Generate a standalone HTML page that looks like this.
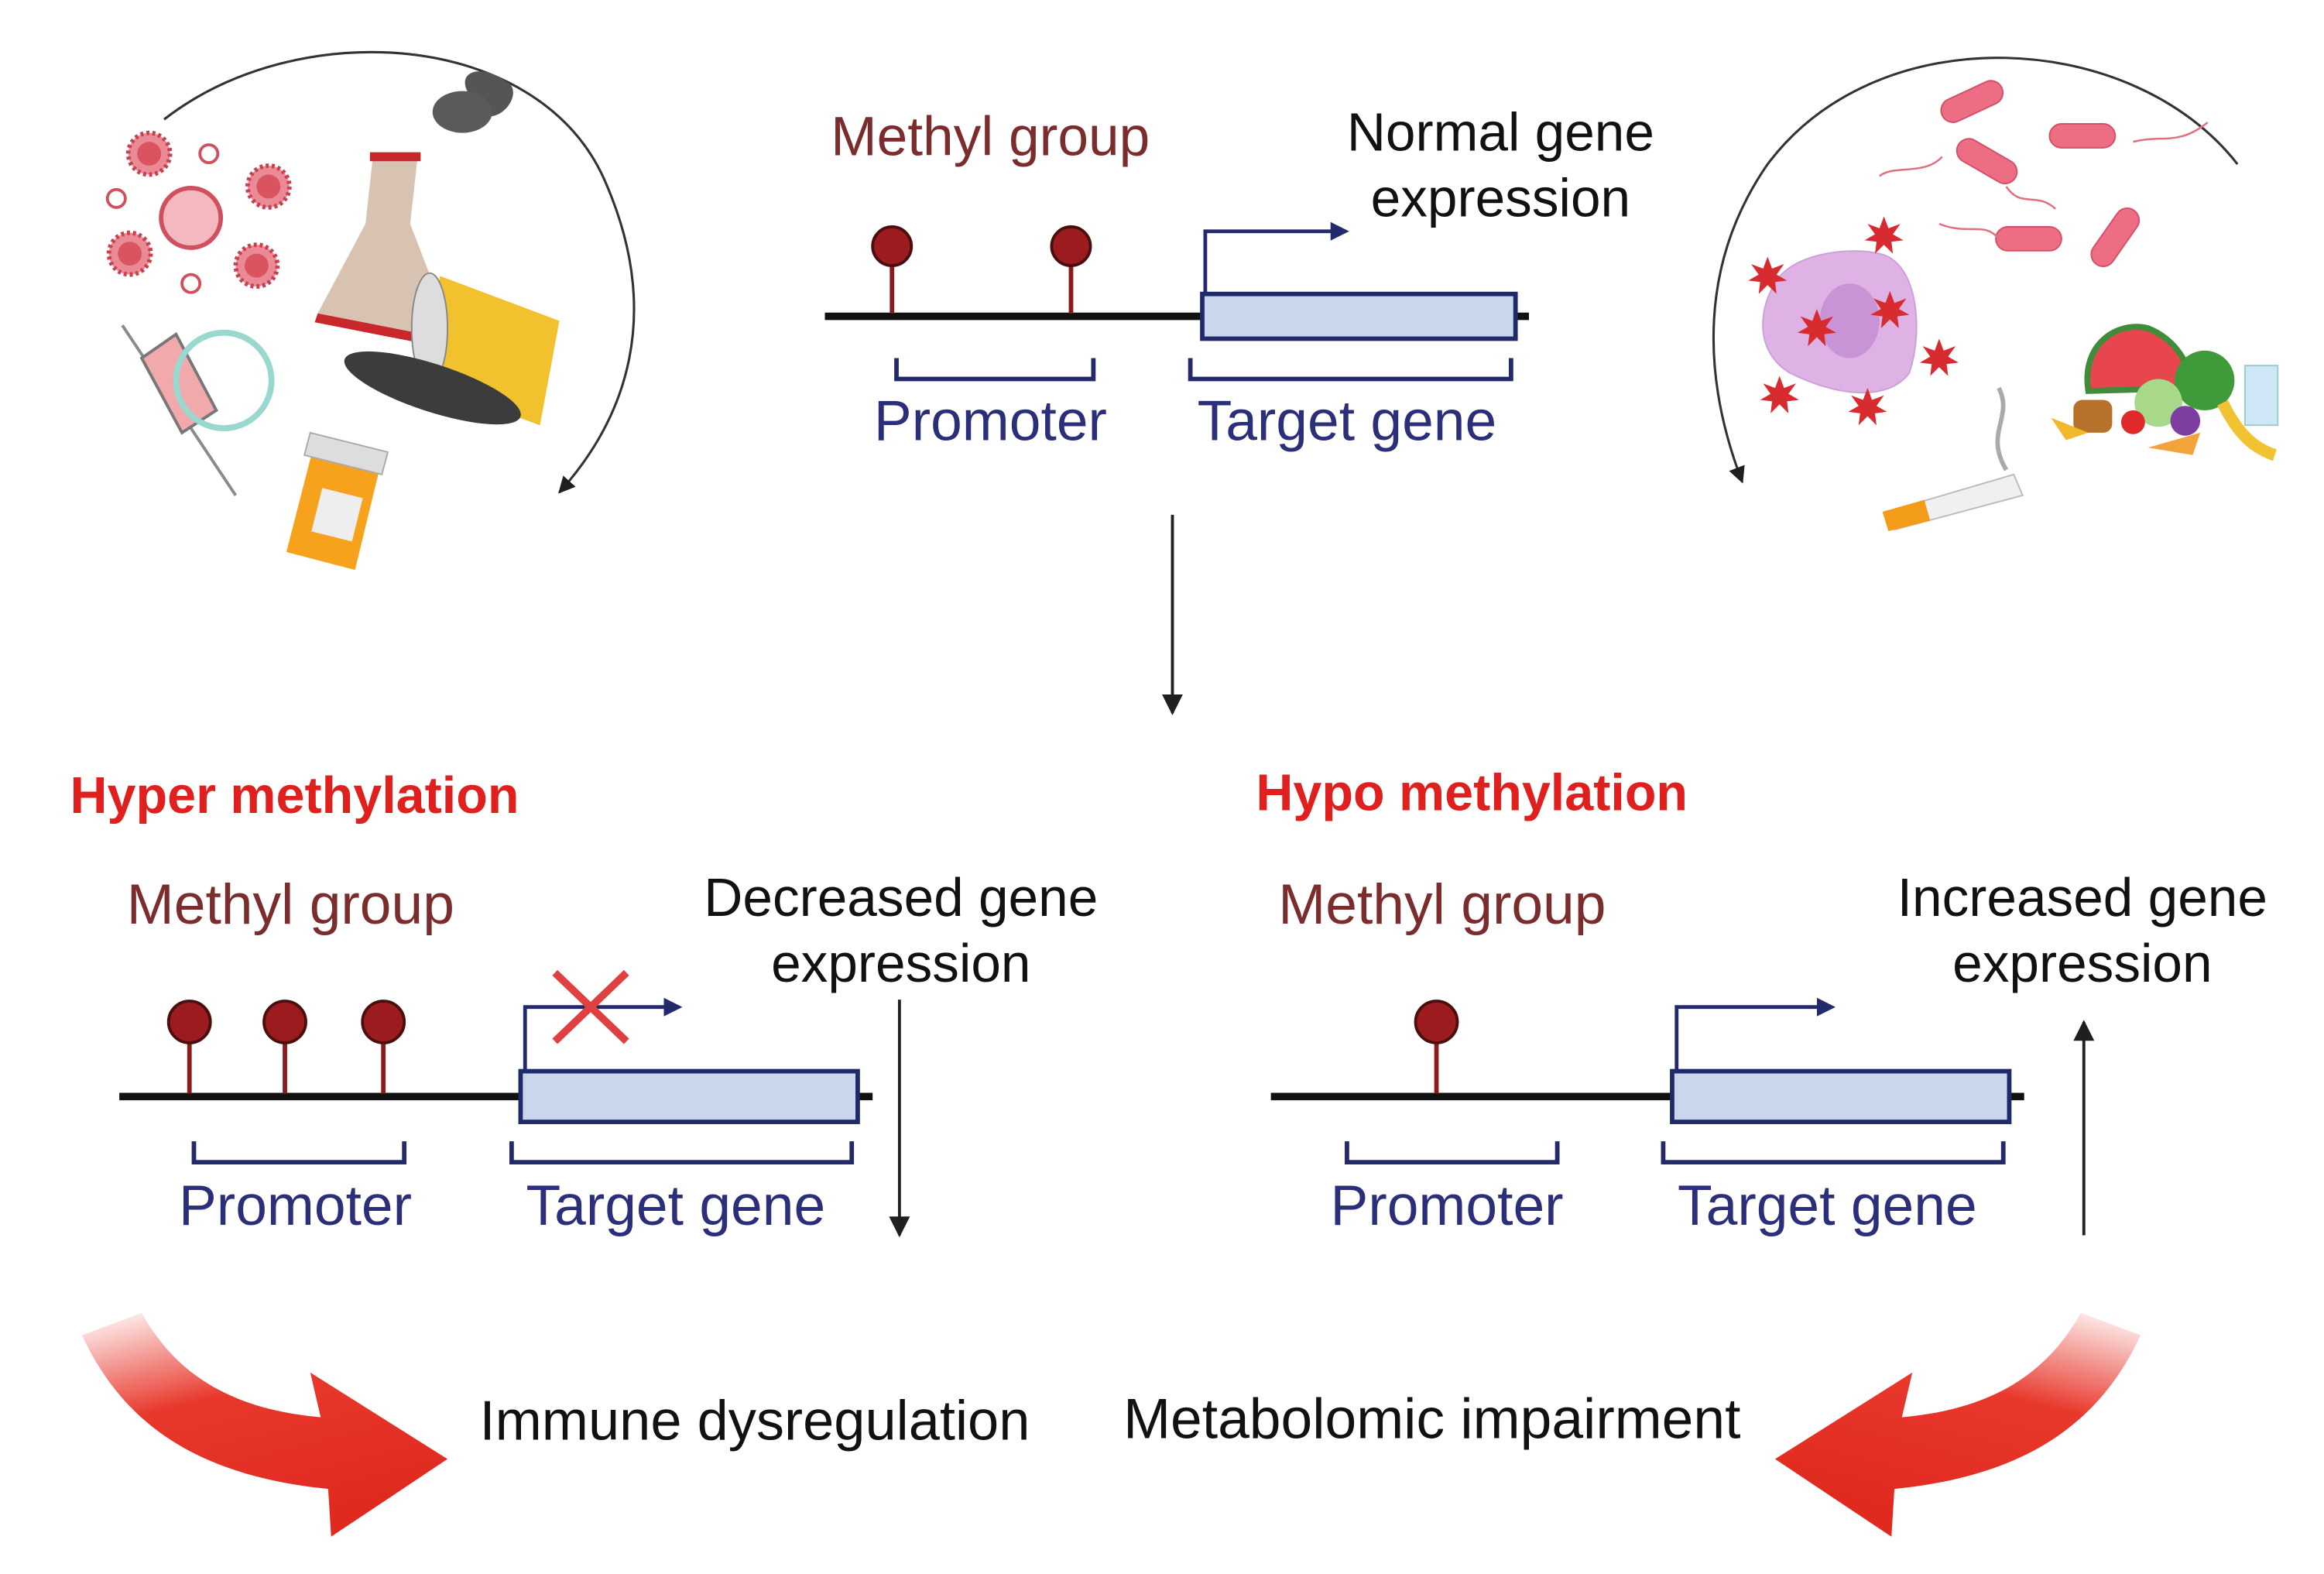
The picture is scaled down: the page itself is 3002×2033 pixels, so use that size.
<!DOCTYPE html>
<html><head><meta charset="utf-8"><style>
html,body{margin:0;padding:0;background:#fff;}
svg{display:block;}
text{font-family:"Liberation Sans",sans-serif;}
</style></head><body>
<svg width="3002" height="2033" viewBox="0 0 1558 1055" xmlns="http://www.w3.org/2000/svg">
<defs>
<marker id="ah" viewBox="0 0 10 10" refX="9" refY="5" markerWidth="7" markerHeight="7" orient="auto"><path d="M0,0 L10,5 L0,10 z" fill="#1f1f1f"/></marker>
<marker id="bh" viewBox="0 0 10 10" refX="8" refY="5" markerWidth="5" markerHeight="5" orient="auto"><path d="M0,0 L10,5 L0,10 z" fill="#232a6b"/></marker>
<linearGradient id="gl" x1="0" y1="0" x2="0.4" y2="1"><stop offset="0" stop-color="#e8382c" stop-opacity="0"/><stop offset="0.45" stop-color="#e8382c"/><stop offset="1" stop-color="#e02a20"/></linearGradient>
<linearGradient id="gr" x1="1" y1="0" x2="0.6" y2="1"><stop offset="0" stop-color="#e8382c" stop-opacity="0"/><stop offset="0.45" stop-color="#e8382c"/><stop offset="1" stop-color="#e02a20"/></linearGradient>
<g id="vir"><circle r="14" fill="#e98a96" stroke="#c9404c" stroke-width="3" stroke-dasharray="2 2"/><circle r="8" fill="#d9545e"/></g>
<g id="bac"><rect x="-22" y="-8" width="44" height="16" rx="8" fill="#ec6d84" stroke="#d45068"/></g>
<g id="ros"><polygon points="0,-13 3,-5 11,-8 6,-1 13,3 5,4 6,12 0,6 -6,12 -5,4 -13,3 -6,-1 -11,-8 -3,-5" fill="#d82b30"/></g>
</defs>

<!-- Left arc -->
<path d="M110,80 C200,10 360,20 405,120 C445,210 420,280 375,330" fill="none" stroke="#333" stroke-width="1.6" marker-end="url(#ah)"/>
<use href="#vir" x="100" y="103"/>
<use href="#vir" x="180" y="125"/>
<use href="#vir" x="87" y="170"/>
<use href="#vir" x="172" y="178"/>
<circle cx="128" cy="146" r="20" fill="#f4b8bf" stroke="#d05060" stroke-width="3"/>
<circle cx="140" cy="103" r="6" fill="none" stroke="#d05060" stroke-width="2"/>
<circle cx="78" cy="133" r="6" fill="none" stroke="#d05060" stroke-width="2"/>
<circle cx="128" cy="190" r="6" fill="none" stroke="#d05060" stroke-width="2"/>
<path d="M320,70 C300,50 320,40 340,55 C350,60 340,80 325,78 Z" fill="#555"/>
<ellipse cx="310" cy="75" rx="20" ry="14" fill="#5a5a5a"/>
<polygon points="250,105 280,105 275,150 305,228 213,210 245,150" fill="#d8c3b2"/>
<rect x="248" y="102" width="34" height="6" fill="#c8282c"/>
<polygon points="213,210 305,228 303,234 211,216" fill="#c8282c"/>
<polygon points="295,185 375,215 362,285 280,255" fill="#f2c12e"/>
<ellipse cx="288" cy="220" rx="12" ry="37" fill="#ddd" stroke="#888"/>
<ellipse cx="290" cy="260" rx="62" ry="16" fill="#3c3c3c" transform="rotate(18 290 260)"/>
<line x1="82" y1="218" x2="158" y2="332" stroke="#8a8a8a" stroke-width="2"/>
<polygon points="95,240 118,224 145,275 122,290" fill="#f1a9ac" stroke="#777" stroke-width="2"/>
<circle cx="150" cy="255" r="32" fill="none" stroke="#98d8cf" stroke-width="4"/>
<polygon points="210,300 255,312 238,382 192,370" fill="#f6a21c"/>
<polygon points="208,290 260,303 256,318 204,305" fill="#ddd" stroke="#aaa"/>
<rect x="212" y="330" width="28" height="30" fill="#eee" transform="rotate(14 226 345)"/>

<!-- Right arc -->
<path d="M1500,110 C1430,20 1260,10 1185,110 C1140,175 1140,250 1168,323" fill="none" stroke="#333" stroke-width="1.6" marker-end="url(#ah)"/>
<use href="#bac" x="1322" y="68" transform="rotate(-25 1322 68)"/>
<use href="#bac" x="1396" y="91"/>
<use href="#bac" x="1332" y="108" transform="rotate(30 1332 108)"/>
<use href="#bac" x="1360" y="160"/>
<use href="#bac" x="1418" y="159" transform="rotate(-55 1418 159)"/>
<path d="M1260,118 C1270,110 1290,118 1302,105 M1430,95 C1450,90 1460,98 1480,82 M1345,125 C1355,140 1365,128 1378,140 M1300,150 C1320,158 1330,148 1340,160" fill="none" stroke="#e07080" stroke-width="1.3"/>
<path d="M1190,190 C1200,170 1240,165 1260,170 C1285,175 1290,220 1280,250 C1265,270 1230,265 1200,250 C1175,235 1180,205 1190,190 Z" fill="#dfb2e6" stroke="#caa0d6"/>
<ellipse cx="1240" cy="215" rx="20" ry="25" fill="#c894d6"/>
<use href="#ros" x="1218" y="220"/><use href="#ros" x="1263" y="158"/><use href="#ros" x="1267" y="208"/>
<use href="#ros" x="1185" y="185"/><use href="#ros" x="1300" y="240"/><use href="#ros" x="1193" y="265"/><use href="#ros" x="1252" y="273"/>
<polygon points="1265,343 1350,318 1356,332 1270,355" fill="#f0f0f0" stroke="#bbb"/>
<polygon points="1262,343 1290,335 1294,349 1266,356" fill="#f39c1a"/>
<path d="M1345,315 C1330,290 1350,280 1340,260" fill="none" stroke="#aaa" stroke-width="3"/>
<path d="M1400,262 C1395,230 1420,215 1440,220 C1465,230 1470,255 1470,260 Z" fill="#e8464f" stroke="#3f8c3a" stroke-width="4"/>
<circle cx="1478" cy="255" r="20" fill="#3f9a3a"/>
<circle cx="1447" cy="270" r="16" fill="#a8d88a"/>
<rect x="1390" y="268" width="26" height="22" rx="6" fill="#b6722a"/>
<circle cx="1465" cy="282" r="10" fill="#7d3ea0"/>
<circle cx="1430" cy="283" r="8" fill="#e02a2a"/>
<rect x="1505" y="245" width="22" height="40" fill="#cfe6f6" stroke="#9cc"/>
<path d="M1490,270 C1500,290 1510,300 1525,305" stroke="#f1c232" stroke-width="8" fill="none"/>
<polygon points="1440,300 1475,290 1470,305" fill="#f3a33c"/>
<polygon points="1375,280 1400,290 1385,295" fill="#f0b82a"/>

<!-- TOP gene -->
<text x="557" y="104" font-size="37" fill="#7b2c2c">Methyl group</text>
<text x="1006" y="101" font-size="36" fill="#111" text-anchor="middle">Normal gene</text>
<text x="1006" y="145" font-size="36" fill="#111" text-anchor="middle">expression</text>
<line x1="553" y1="212" x2="1025" y2="212" stroke="#111" stroke-width="5"/>
<line x1="598" y1="172" x2="598" y2="210" stroke="#8b1a1a" stroke-width="3"/>
<line x1="718" y1="172" x2="718" y2="210" stroke="#8b1a1a" stroke-width="3"/>
<circle cx="598" cy="165" r="13" fill="#9b1b1f" stroke="#4a0e0e" stroke-width="2"/>
<circle cx="718" cy="165" r="13" fill="#9b1b1f" stroke="#4a0e0e" stroke-width="2"/>
<rect x="806" y="197" width="210" height="30" fill="#c9d6ec" stroke="#1f2a6b" stroke-width="3"/>
<path d="M808,197 V155 H902" fill="none" stroke="#232a6b" stroke-width="2.5" marker-end="url(#bh)"/>
<path d="M601,240 V254 H733 V240 M798,240 V254 H1013 V240" fill="none" stroke="#232a6b" stroke-width="3"/>
<text x="664" y="295" font-size="38" fill="#2b2f7a" text-anchor="middle">Promoter</text>
<text x="903" y="295" font-size="38" fill="#2b2f7a" text-anchor="middle">Target gene</text>
<line x1="786" y1="345" x2="786" y2="478" stroke="#222" stroke-width="2" marker-end="url(#ah)"/>

<!-- LEFT gene -->
<text x="47" y="545" font-size="34.5" font-weight="bold" fill="#e0201e">Hyper methylation</text>
<text x="85" y="619" font-size="38" fill="#7b2c2c">Methyl group</text>
<text x="604" y="614" font-size="36" fill="#111" text-anchor="middle">Decreased gene</text>
<text x="604" y="658" font-size="36" fill="#111" text-anchor="middle">expression</text>
<line x1="80" y1="735" x2="585" y2="735" stroke="#111" stroke-width="5"/>
<g stroke="#8b1a1a" stroke-width="3"><line x1="127" y1="692" x2="127" y2="733"/><line x1="191" y1="692" x2="191" y2="733"/><line x1="257" y1="692" x2="257" y2="733"/></g>
<g fill="#9b1b1f" stroke="#4a0e0e" stroke-width="2"><circle cx="127" cy="685" r="14"/><circle cx="191" cy="685" r="14"/><circle cx="257" cy="685" r="14"/></g>
<rect x="349" y="718" width="226" height="34" fill="#c9d6ec" stroke="#1f2a6b" stroke-width="3"/>
<path d="M352,718 V675 H455" fill="none" stroke="#232a6b" stroke-width="2.5" marker-end="url(#bh)"/>
<path d="M372,652 L420,698 M420,652 L372,698" stroke="#e04040" stroke-width="5"/>
<path d="M130,765 V779 H271 V765 M343,765 V779 H571 V765" fill="none" stroke="#232a6b" stroke-width="3"/>
<text x="198" y="821" font-size="38" fill="#2b2f7a" text-anchor="middle">Promoter</text>
<text x="453" y="821" font-size="38" fill="#2b2f7a" text-anchor="middle">Target gene</text>
<line x1="603" y1="670" x2="603" y2="828" stroke="#222" stroke-width="2" marker-end="url(#ah)"/>

<!-- RIGHT gene -->
<text x="842" y="543" font-size="34.5" font-weight="bold" fill="#e0201e">Hypo methylation</text>
<text x="857" y="619" font-size="38" fill="#7b2c2c">Methyl group</text>
<text x="1396" y="614" font-size="36" fill="#111" text-anchor="middle">Increased gene</text>
<text x="1396" y="658" font-size="36" fill="#111" text-anchor="middle">expression</text>
<line x1="852" y1="735" x2="1357" y2="735" stroke="#111" stroke-width="5"/>
<line x1="963" y1="692" x2="963" y2="733" stroke="#8b1a1a" stroke-width="3"/>
<circle cx="963" cy="685" r="14" fill="#9b1b1f" stroke="#4a0e0e" stroke-width="2"/>
<rect x="1121" y="718" width="226" height="34" fill="#c9d6ec" stroke="#1f2a6b" stroke-width="3"/>
<path d="M1124,718 V675 H1228" fill="none" stroke="#232a6b" stroke-width="2.5" marker-end="url(#bh)"/>
<path d="M903,765 V779 H1044 V765 M1115,765 V779 H1343 V765" fill="none" stroke="#232a6b" stroke-width="3"/>
<text x="970" y="821" font-size="38" fill="#2b2f7a" text-anchor="middle">Promoter</text>
<text x="1225" y="821" font-size="38" fill="#2b2f7a" text-anchor="middle">Target gene</text>
<line x1="1397" y1="828" x2="1397" y2="685" stroke="#222" stroke-width="2" marker-end="url(#ah)"/>

<!-- Bottom -->
<text x="506" y="965" font-size="37.5" fill="#111" text-anchor="middle">Immune dysregulation</text>
<text x="960" y="964" font-size="38" fill="#111" text-anchor="middle">Metabolomic impairment</text>
<path d="M55,895 L95,880 C120,925 160,945 215,950 L208,920 L300,978 L222,1030 L220,998 C140,990 85,960 55,895 Z" fill="url(#gl)"/>
<path d="M1435,895 L1395,880 C1370,925 1330,945 1275,950 L1282,920 L1190,978 L1268,1030 L1270,998 C1350,990 1405,960 1435,895 Z" fill="url(#gr)"/>
</svg>
</body></html>
